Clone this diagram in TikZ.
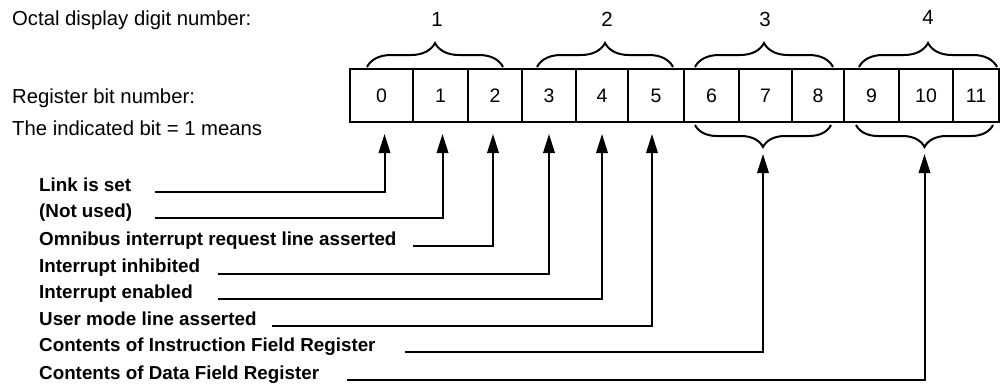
\documentclass[tikz,border=0pt]{standalone}
\usepackage{fontspec}
\setmainfont{Liberation Sans}
\usetikzlibrary{arrows.meta,decorations.pathreplacing}
\begin{document}
\begin{tikzpicture}[x=1pt,y=-1pt,
  cell/.style={draw, line width=2pt, minimum height=53pt, inner sep=0pt,
    text depth=-2pt, font=\fontsize{19.5}{20}\selectfont},
  lbl/.style={anchor=base west, inner sep=0pt, font=\fontsize{18.8}{20}\selectfont\bfseries},
  txt/.style={anchor=base west, inner sep=0pt, font=\fontsize{20.3}{22}\selectfont},
  dig/.style={anchor=base, inner sep=0pt, font=\fontsize{20.5}{22}\selectfont},
  conn/.style={line width=2pt, -{Triangle[length=19pt,width=11.5pt]}},
  brc/.style={line width=2pt, decorate, decoration={brace, amplitude=24pt}},
]
\useasboundingbox (0,0) rectangle (1000,383);

% header texts
\node[txt] (hdr1) at (12,25) {Octal display digit number:};
\node[txt] (hdr2) at (12,103) {Register bit number:};
\node[txt] (hdr3) at (12,135) {The indicated bit = 1 means};

% register cells
\node[cell, minimum width=63pt] (b0)  at (381.5,95.5) {0};
\node[cell, minimum width=55pt] (b1)  at (440.5,95.5) {1};
\node[cell, minimum width=54pt] (b2)  at (495,95.5)   {2};
\node[cell, minimum width=54pt] (b3)  at (549,95.5)   {3};
\node[cell, minimum width=52pt] (b4)  at (602,95.5)   {4};
\node[cell, minimum width=56pt] (b5)  at (656,95.5)   {5};
\node[cell, minimum width=55pt] (b6)  at (711.5,95.5) {6};
\node[cell, minimum width=53pt] (b7)  at (765.5,95.5) {7};
\node[cell, minimum width=52pt] (b8)  at (818,95.5)   {8};
\node[cell, minimum width=55pt] (b9)  at (871.5,95.5) {9};
\node[cell, minimum width=54pt] (b10) at (926,95.5)   {10};
\node[cell, minimum width=46pt] (b11) at (976,95.5)   {11};

% upper braces and octal digit numbers
\draw[brc] (367,67) -- (503,67);
\draw[brc] (537,67) -- (673,67);
\draw[brc] (695,67) -- (833,67);
\draw[brc] (859,67) -- (997,67);
\node[dig] (o1) at (437,26) {1};
\node[dig] (o2) at (607,26) {2};
\node[dig] (o3) at (765,26) {3};
\node[dig] (o4) at (928,24) {4};

% lower braces
\draw[brc, decoration={brace, amplitude=22pt}] (831,125) -- (695,125);
\draw[brc, decoration={brace, amplitude=22pt}] (993,125) -- (856,125);
\coordinate (t1) at (763,147);
\coordinate (t2) at (924.5,147);

% meaning labels
\node[lbl] (l0) at (39,191) {Link is set};
\node[lbl] (l1) at (39,217) {(Not used)};
\node[lbl] (l2) at (39,245) {Omnibus interrupt request line asserted};
\node[lbl] (l3) at (39,272) {Interrupt inhibited};
\node[lbl] (l4) at (39,298) {Interrupt enabled};
\node[lbl] (l5) at (39,325) {User mode line asserted};
\node[lbl] (l6) at (39,351) {Contents of Instruction Field Register};
\node[lbl] (l7) at (39,379) {Contents of Data Field Register};

% line start points
\coordinate (s0) at (155,192);
\coordinate (s1) at (155,218);
\coordinate (s2) at (413,246);
\coordinate (s3) at (218,274);
\coordinate (s4) at (218,299);
\coordinate (s5) at (272,326);
\coordinate (s6) at (405,352);
\coordinate (s7) at (347,380);

% connectors
\draw[conn, shorten >=11pt] (s0) -| ([xshift=3pt]b0.south);
\draw[conn, shorten >=11pt] (s1) -| ([xshift=2pt]b1.south);
\draw[conn, shorten >=11pt] (s2) -| ([xshift=-2pt]b2.south);
\draw[conn, shorten >=11pt] (s3) -| (b3.south);
\draw[conn, shorten >=11pt] (s4) -| (b4.south);
\draw[conn, shorten >=11pt] (s5) -| ([xshift=-4pt]b5.south);
\draw[conn, shorten >=7pt] (s6) -| (t1);
\draw[conn, shorten >=7pt] (s7) -| (t2);
\end{tikzpicture}
\end{document}
